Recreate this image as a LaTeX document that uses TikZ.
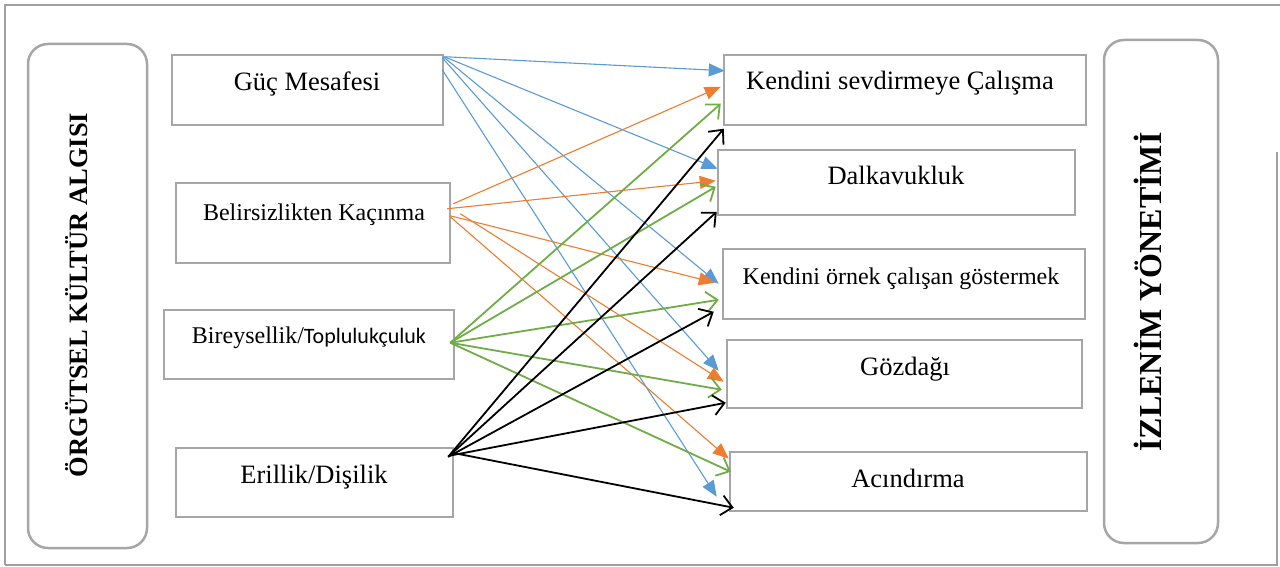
\documentclass[tikz,border=0pt]{standalone}
\usepackage{fontspec}
\setmainfont{Liberation Serif}
\newfontfamily\calib{Carlito}
\usetikzlibrary{arrows.meta,calc}
\definecolor{bxgray}{HTML}{A6A6A6}
\definecolor{frgray}{HTML}{A0A0A0}
\definecolor{cblue}{HTML}{5B9BD5}
\definecolor{corange}{HTML}{ED7D31}
\definecolor{cgreen}{HTML}{70AD47}
\begin{document}
\begin{tikzpicture}[x=1pt,y=-1pt,
  box/.style={draw=bxgray, line width=2.5pt, inner sep=0pt},
  rbox/.style={draw=bxgray, line width=2.5pt, inner sep=0pt, rounded corners=20pt},
  lbl/.style={inner sep=0pt, anchor=base, font=\fontsize{26.5pt}{30pt}\selectfont},
  lbls/.style={inner sep=0pt, anchor=base, font=\fontsize{24pt}{28pt}\selectfont},
  vlbl/.style={inner sep=0pt, anchor=base, rotate=90, font=\bfseries\fontsize{#1}{#1}\selectfont},
  bl/.style={draw=cblue, line width=1.1pt, -{Triangle[length=16pt,width=13pt]}},
  og/.style={draw=corange, line width=1.1pt, -{Triangle[length=16pt,width=13pt]}},
  gr/.style={draw=cgreen, line width=1.8pt, -{Straight Barb[length=11pt,width=20pt]}},
  bk/.style={draw=black, line width=1.8pt, -{Straight Barb[length=11pt,width=20pt]}},
  frame/.style={draw=frgray, line width=2pt}
]
\useasboundingbox (0,0) rectangle (1280,567);
\fill[white] (0,0) rectangle (1280,567);
% outer frame
\draw[frame] (5,565) -- (5,5) -- (1280,5);
\draw[frame] (5,565) -- (1277,565) -- (1277,152);

% side panels
\node[rbox, minimum width=119pt, minimum height=504pt] (left) at (87.5,296) {};
\node[vlbl=26.5pt] (ltxt) at (87,295) {ÖRGÜTSEL KÜLTÜR ALGISI};
\node[rbox, minimum width=114pt, minimum height=503pt] (right) at (1161,291.5) {};
\node[vlbl=32pt] (rtxt) at (1161,292) {İZLENİM YÖNETİMİ};

% left boxes
\node[box, minimum width=271pt, minimum height=70pt] (gm) at (307.5,90) {};
\node[lbl] (tgm) at (307,91) {Güç Mesafesi};
\node[box, minimum width=274pt, minimum height=80pt] (bk) at (313,223) {};
\node[lbls] (tbk) at (314,220) {Belirsizlikten Kaçınma};
\node[box, minimum width=290pt, minimum height=69pt] (bt) at (309,344.5) {};
\node[inner sep=0pt, anchor=base] (tbt) at (309,343) {\fontsize{24pt}{28pt}\selectfont Bireysellik/\calib\fontsize{22pt}{26pt}\selectfont Toplulukçuluk};
\node[box, minimum width=277pt, minimum height=69pt] (ed) at (314.5,482.5) {};
\node[lbl] (ted) at (314,483) {Erillik/Dişilik};

% right boxes
\node[box, minimum width=362pt, minimum height=70pt] (k1) at (905,90) {};
\node[lbl] (tk1) at (900,90) {Kendini sevdirmeye Çalışma};
\node[box, minimum width=357pt, minimum height=65pt] (k2) at (896.5,182.5) {};
\node[lbl] (tk2) at (896,185) {Dalkavukluk};
\node[box, minimum width=362pt, minimum height=70pt] (k3) at (904,284) {};
\node[lbls] (tk3) at (901,284) {Kendini örnek çalışan göstermek};
\node[box, minimum width=355pt, minimum height=68pt] (k4) at (904.5,374) {};
\node[lbl] (tk4) at (905,375) {Gözdağı};
\node[box, minimum width=357pt, minimum height=59pt] (k5) at (908.5,481.5) {};
\node[lbl] (tk5) at (908,487) {Acındırma};

% blue: Güç Mesafesi
\draw[bl] ([shift={(1,3)}]gm.north east) -- ([shift={(2,17)}]k1.north west);
\draw[bl] ([shift={(0,3)}]gm.north east) -- ([shift={(1,20)}]k2.north west);
\draw[bl] ([shift={(-1,3)}]gm.north east) -- ([shift={(-3,36)}]k3.north west);
\draw[bl] ([shift={(-2,4)}]gm.north east) -- ([shift={(-7,32)}]k4.north west);
\draw[bl] ([shift={(-2,16)}]gm.north east) -- ([shift={(-12,46)}]k5.north west);

% orange: Belirsizlikten Kaçınma
\draw[og] ([shift={(2,22)}]bk.north east) -- ([shift={(-2,33)}]k1.north west);
\draw[og] ([shift={(-4,27)}]bk.north east) -- ([shift={(-1,32)}]k2.north west);
\draw[og] ([shift={(-1,34)}]bk.north east) -- ([shift={(-7,35)}]k3.north west);
\draw[og] ([shift={(9,32)}]bk.north east) -- ([shift={(-2,43)}]k4.north west);
\draw[og] ([shift={(-1,35)}]bk.north east) -- ([shift={(0,8)}]k5.north west);

% green: Bireysellik/Toplulukçuluk
\draw[gr] ([shift={(-5,34)}]bt.north east) -- ([shift={(-2,50)}]k1.north west);
\draw[gr] ([shift={(-5,34)}]bt.north east) -- ([shift={(-1,38)}]k2.north west);
\draw[gr] ([shift={(-5,34)}]bt.north east) -- ([shift={(-3,52)}]k3.north west);
\draw[gr] ([shift={(-5,34)}]bt.north east) -- ([shift={(-4,51)}]k4.north west);
\draw[gr] ([shift={(-5,34)}]bt.north east) -- ([shift={(2,21)}]k5.north west);

% black: Erillik/Dişilik
\draw[bk] ([shift={(-6,10)}]ed.north east) -- ([shift={(1,75)}]k1.north west);
\draw[bk] ([shift={(-6,10)}]ed.north east) -- ([shift={(0,63)}]k2.north west);
\draw[bk] ([shift={(-6,10)}]ed.north east) -- ([shift={(-8,64)}]k3.north west);
\draw[bk] ([shift={(-5,9)}]ed.north east) -- ([shift={(0,64)}]k4.north west);
\draw[bk] ([shift={(-2,6)}]ed.north east) -- ([shift={(5,57)}]k5.north west);
\end{tikzpicture}
\end{document}
